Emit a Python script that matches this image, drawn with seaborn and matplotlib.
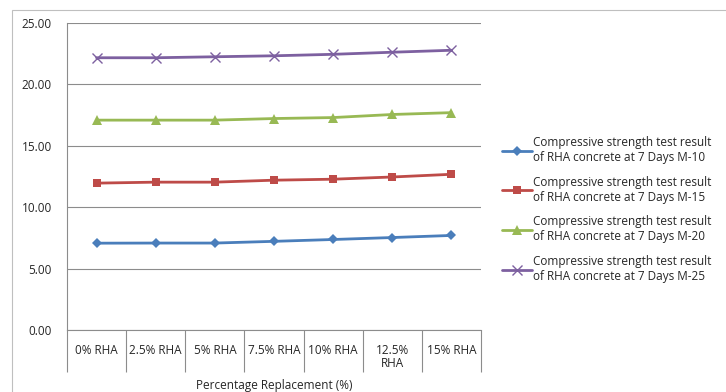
import numpy             as np
import pandas            as pd
import seaborn           as sns
import matplotlib.pyplot as plt
from matplotlib.lines   import Line2D
from matplotlib.patches import Rectangle

categories = ["0% RHA", "2.5% RHA", "5% RHA", "7.5% RHA", "10% RHA", "12.5%\nRHA", "15% RHA"]
m10 = [7.07, 7.08, 7.08, 7.22, 7.37, 7.53, 7.70]
m15 = [11.96, 12.04, 12.04, 12.20, 12.28, 12.46, 12.68]
m20 = [17.09, 17.09, 17.09, 17.22, 17.30, 17.55, 17.70]
m25 = [22.17, 22.17, 22.25, 22.33, 22.45, 22.62, 22.78]
series_names = [
    "Compressive strength test result\nof RHA concrete at 7 Days M-10",
    "Compressive strength test result\nof RHA concrete at 7 Days M-15",
    "Compressive strength test result\nof RHA concrete at 7 Days M-20",
    "Compressive strength test result\nof RHA concrete at 7 Days M-25",
]
y_ticks = [0, 5, 10, 15, 20, 25]

df = pd.DataFrame({
    "pos": list(range(len(categories))) * 4,
    "value": m10 + m15 + m20 + m25,
    "series": np.repeat(series_names, len(categories)),
})

sns.set_style("white")
plt.rcParams['font.family'] = ['Open Sans', 'DejaVu Sans']

colors = ["#4a7ebb", "#be4b48", "#98b954", "#7d60a0"]
markers = ["D", "s", "^", "x"]
msizes = [5, 6, 6.5, 7.5]
FS = 8.5

fig = plt.figure(figsize=(7.26, 3.92), dpi=100)
ax = fig.add_axes([67/726, 62/392, 414/726, 307/392])

sns.lineplot(data=df, x="pos", y="value", hue="series",
             palette=colors, linewidth=2, ax=ax, legend=False)

handles = []
for line, c, m, s, name in zip(ax.lines, colors, markers, msizes, series_names):
    line.set_marker(m)
    line.set_markersize(s)
    line.set_markerfacecolor(c)
    line.set_markeredgecolor(c)
    line.set_markeredgewidth(1.0 if m == "x" else 0)
    handles.append(Line2D([], [], color=c, linewidth=2, marker=m, markersize=s,
                          markerfacecolor=c, markeredgecolor=c,
                          markeredgewidth=1.0 if m == "x" else 0, label=name))

ax.set_xlim(-0.5, len(categories) - 0.5)
ax.set_ylim(0, 25)
ax.set_yticks(y_ticks)
ax.set_yticklabels([f"{v:.2f}" for v in y_ticks], fontsize=FS)
ax.set_xticks(range(len(categories)))
ax.set_xticklabels(categories, fontsize=FS, linespacing=1.0)
ax.set_xticks(np.arange(-0.5, len(categories)), minor=True)
ax.tick_params(axis="x", which="major", bottom=False, length=0, pad=10)
ax.tick_params(axis="x", which="minor", bottom=True, length=30, width=0.8,
               color="#8c8c8c", direction="out")
ax.tick_params(axis="y", left=False, length=0, pad=11)
ax.set_xlabel("Percentage Replacement (%)", fontsize=FS, labelpad=2)
ax.set_ylabel("")
ax.grid(axis="y", color="#8c8c8c", linewidth=0.8)
ax.set_axisbelow(True)
for side in ["top", "right"]:
    ax.spines[side].set_visible(False)
ax.spines["left"].set_color("#8c8c8c")
ax.spines["bottom"].set_color("#8c8c8c")

fig.legend(handles=handles, loc="upper left", bbox_to_anchor=(497/726, 1 - 131/392),
           frameon=False, fontsize=FS, handlelength=2.6, handletextpad=0.05,
           labelspacing=1.0, borderaxespad=0)

fig.patches.append(Rectangle((12/726, -0.05), 1.0, 1 - 10/392 + 0.05,
                             transform=fig.transFigure, fill=False,
                             edgecolor="#bfbfbf", linewidth=0.8))

fig.savefig("out.png", dpi=100)
